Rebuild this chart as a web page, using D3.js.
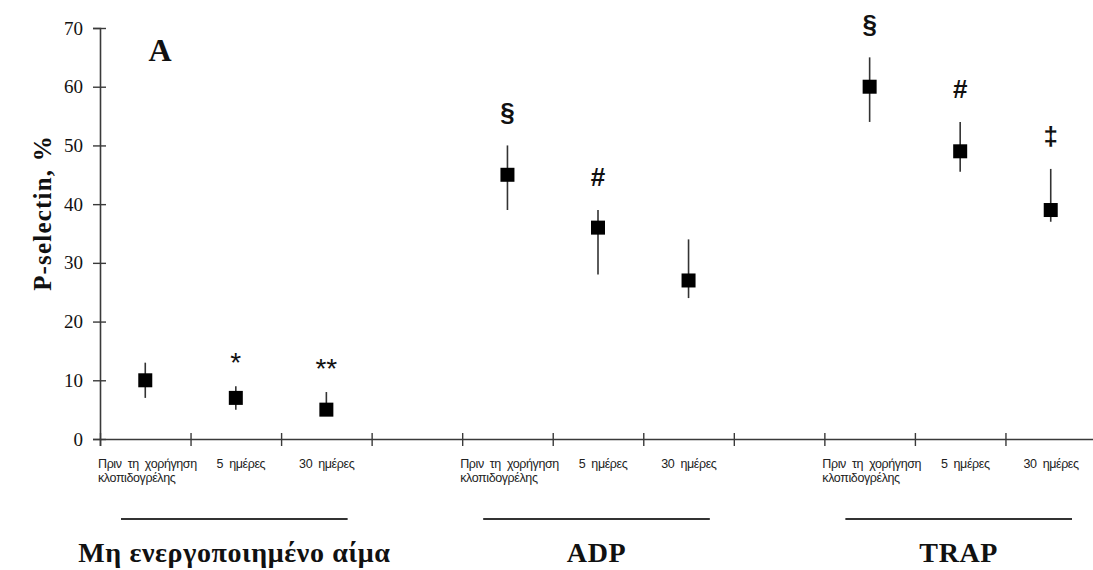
<!DOCTYPE html>
<html>
<head>
<meta charset="utf-8">
<script src="https://cdn.jsdelivr.net/npm/d3@7"></script>
<style>
  body { margin: 0; background: #fff; }
  svg { display: block; }
</style>
</head>
<body>
<div id="chart"></div>
<script>
// slots along the x axis, 3 per group and one empty gap between groups
const slots = ["g1a", "g1b", "g1c", "gap1", "g2a", "g2b", "g2c", "gap2", "g3a", "g3b", "g3c"];
const pointSlots = ["g1a", "g1b", "g1c", "g2a", "g2b", "g2c", "g3a", "g3b", "g3c"];
const means = [10, 7, 5, 45, 36, 27, 60, 49, 39];
const upper = [13, 9, 8, 50, 39, 34, 65, 54, 46];
const lower = [7, 5, 4.5, 39, 28, 24, 54, 45.5, 37];
const marks = ["", "*", "**", "§", "#", "", "§", "#", "‡"];
const tickLabels = [["Πριν τη χορήγηση", "κλοπιδογρέλης"], ["5 ημέρες"], ["30 ημέρες"]];
const groups = ["Μη ενεργοποιημένο αίμα", "ADP", "TRAP"];
const groupSlots = [["g1a", "g1c"], ["g2a", "g2c"], ["g3a", "g3c"]];
const yTicks = [0, 10, 20, 30, 40, 50, 60, 70];

const width = 1093, height = 570;
const margin = {top: 28, left: 100, bottom: 131};

let svg = d3.select("#chart")
  .append("svg")
    .attr("width", width)
    .attr("height", height);

let y = d3.scaleLinear()
  .domain([0, 70])
  .range([height - margin.bottom, margin.top]);

let x = d3.scaleBand()
  .domain(slots)
  .range([margin.left, 1096]);

let xEdge = d3.scaleLinear()
  .domain([0, slots.length])
  .range([margin.left, 1096]);

const axisColor = "#3a3a3a";

// y axis
let yAxis = svg.append("g")
  .attr("transform", "translate(" + margin.left + ",0)")
  .call(d3.axisLeft(y).tickValues(yTicks).tickSize(7).tickPadding(10));
yAxis.select(".domain").attr("stroke", axisColor).attr("stroke-width", 1.6);
yAxis.selectAll(".tick line").attr("x1", 6).attr("stroke", axisColor).attr("stroke-width", 1.4);
yAxis.selectAll(".tick text")
  .attr("font-family", "Liberation Serif, Times New Roman, serif")
  .attr("font-size", "19px")
  .attr("fill", "#111");

// x axis, ticks on band edges
let xAxis = svg.append("g")
  .attr("transform", "translate(0," + y(0) + ")")
  .call(d3.axisBottom(xEdge).tickValues(d3.range(slots.length + 1)).tickSize(7).tickFormat(""));
xAxis.select(".domain").attr("stroke", axisColor).attr("stroke-width", 1.6);
xAxis.selectAll(".tick line").attr("y1", -6).attr("stroke", axisColor).attr("stroke-width", 1.4);

// category labels under each group
const labelDx = [-2, 26, 18];
groupSlots.forEach(function(g, gi) {
  let start = slots.indexOf(g[0]);
  tickLabels.forEach(function(lines, li) {
    let t = svg.append("text")
      .attr("x", x(slots[start + li]) + labelDx[li])
      .attr("y", y(0) + 29)
      .attr("font-family", "Liberation Sans, Arial, sans-serif")
      .attr("font-size", "12.5px")
      .attr("letter-spacing", "-0.4px")
      .attr("word-spacing", "3px")
      .attr("fill", "#222");
    lines.forEach(function(s, k) {
      t.append("tspan")
        .attr("x", x(slots[start + li]) + labelDx[li])
        .attr("dy", k == 0 ? 0 : 13.5)
        .text(s);
    });
  });
});

// group underline + group name
groupSlots.forEach(function(g, gi) {
  let x1 = x(g[0]) + 21;
  let x2 = x(g[1]) + x.bandwidth() - 24;
  svg.append("line")
    .attr("x1", x1).attr("x2", x2)
    .attr("y1", 519).attr("y2", 519)
    .attr("stroke", "#333")
    .attr("stroke-width", 2);
  svg.append("text")
    .text(groups[gi])
    .attr("x", (x1 + x2) / 2)
    .attr("y", 562)
    .attr("text-anchor", "middle")
    .attr("font-family", "Liberation Serif, Times New Roman, serif")
    .attr("font-weight", "bold")
    .attr("font-size", "28px")
    .attr("letter-spacing", "0.6px")
    .attr("fill", "#111");
});

// error bars
svg.selectAll(".err")
  .data(pointSlots)
  .enter()
  .append("line")
    .attr("class", "err")
    .attr("x1", function(d) { return x(d) + x.bandwidth() / 2; })
    .attr("x2", function(d) { return x(d) + x.bandwidth() / 2; })
    .attr("y1", function(d, i) { return y(upper[i]); })
    .attr("y2", function(d, i) { return y(lower[i]); })
    .attr("stroke", "#333")
    .attr("stroke-width", 1.6);

// squares
const sq = 14;
svg.selectAll(".pt")
  .data(pointSlots)
  .enter()
  .append("rect")
    .attr("class", "pt")
    .attr("x", function(d) { return x(d) + x.bandwidth() / 2 - sq / 2; })
    .attr("y", function(d, i) { return y(means[i]) - sq / 2; })
    .attr("width", sq)
    .attr("height", sq)
    .attr("fill", "#000");

// significance marks
svg.selectAll(".mark")
  .data(pointSlots)
  .enter()
  .append("text")
    .attr("class", "mark")
    .text(function(d, i) { return marks[i]; })
    .attr("x", function(d) { return x(d) + x.bandwidth() / 2; })
    .attr("y", function(d, i) { return y(upper[i]) - (marks[i].indexOf("*") >= 0 ? 24 : 33); })
    .attr("text-anchor", "middle")
    .attr("dominant-baseline", "central")
    .attr("font-family", "Liberation Sans, Arial, sans-serif")
    .attr("font-weight", function(d, i) { return marks[i].indexOf("*") >= 0 ? "normal" : "bold"; })
    .attr("font-size", function(d, i) { return marks[i].indexOf("*") >= 0 ? "28px" : "26px"; })
    .attr("fill", "#111");

// panel letter
svg.append("text")
  .text("A")
  .attr("x", 160)
  .attr("y", 61)
  .attr("text-anchor", "middle")
  .attr("font-family", "Liberation Serif, Times New Roman, serif")
  .attr("font-weight", "bold")
  .attr("font-size", "32px")
  .attr("fill", "#111");

// y axis title
svg.append("text")
  .text("P-selectin, %")
  .attr("transform", "translate(42," + y(38.5) + ") rotate(-90)")
  .attr("text-anchor", "middle")
  .attr("dominant-baseline", "central")
  .attr("font-family", "Liberation Serif, Times New Roman, serif")
  .attr("font-weight", "bold")
  .attr("font-size", "25px")
  .attr("letter-spacing", "1.2px")
  .attr("fill", "#111");
</script>
</body>
</html>
